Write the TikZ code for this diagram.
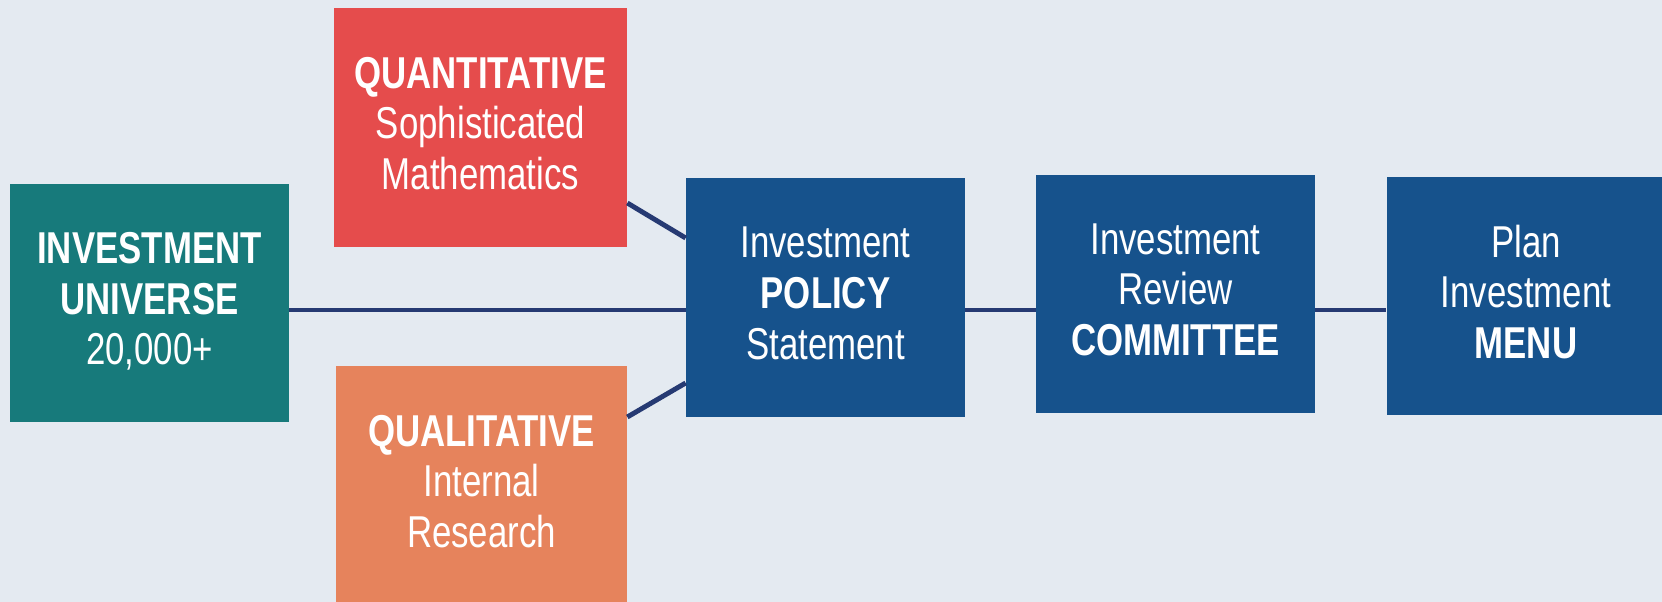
\documentclass[tikz,border=0pt]{standalone}
\usepackage{fontspec}
\setmainfont{Liberation Sans}[FakeStretch=0.78]
\usepackage{tikz}
\usetikzlibrary{positioning}

\definecolor{bgpaper}{RGB}{228,234,241}
\definecolor{tealbox}{RGB}{23,122,123}
\definecolor{redbox}{RGB}{229,76,76}
\definecolor{orangebox}{RGB}{230,131,92}
\definecolor{bluebox}{RGB}{22,82,140}
\definecolor{linkline}{RGB}{38,58,115}

\begin{document}
\begin{tikzpicture}[
    box/.style={rectangle, inner sep=0pt, text=white, align=center,
        minimum width=5.58cm, minimum height=4.77cm,
        font=\fontsize{25.4}{28.8}\selectfont,
        execute at end node={\rule[-5pt]{0pt}{0pt}}},
    link/.style={draw=linkline, line width=2.8pt}]
    \useasboundingbox (0,0) rectangle (33.24,12.04);
    \clip (0,0) rectangle (33.24,12.04);
    \fill [bgpaper] (0,0) rectangle (33.24,12.04);

    % Screening flow into the policy statement
    \node (universe) at (2.99,5.98) [box, fill=tealbox] {\textbf{INVESTMENT}\\\textbf{UNIVERSE}\\20,000+};
    \node (quant) at (9.61,9.49) [box, fill=redbox, minimum width=5.86cm] {\textbf{QUANTITATIVE}\\Sophisticated\\Mathematics};
    \node (qual) at (9.63,2.33) [box, fill=orangebox, minimum width=5.82cm] {\textbf{QUALITATIVE}\\Internal\\Research};
    \node (policy) at (16.51,6.09) [box, fill=bluebox] {Investment\\\textbf{POLICY}\\Statement};
    \node (review) at (23.51,6.16) [box, fill=bluebox] {Investment\\Review\\\textbf{COMMITTEE}};
    \node (menu) at (30.52,6.12) [box, fill=bluebox] {Plan\\Investment\\\textbf{MENU}};

    \coordinate (axis) at (0,5.84);

    \draw [link] (universe.east |- axis) -- (policy.west |- axis);
    \draw [link] (policy.east |- axis) -- (review.west |- axis);
    \draw [link] (review.east |- axis) -- (menu.west |- axis);
    \draw [link] (quant.east |- 0,7.98) -- (policy.west |- 0,7.28);
    \draw [link] (qual.east |- 0,3.70) -- (policy.west |- 0,4.38);
\end{tikzpicture}
\end{document}
